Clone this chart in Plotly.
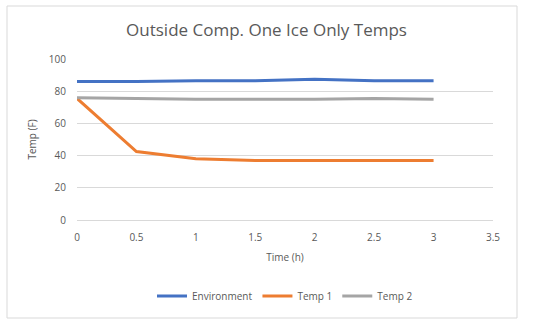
import plotly.graph_objects as go

time_h = [0, 0.5, 1, 1.5, 2, 2.5, 3]
environment = [86, 86, 86.5, 86.5, 87.5, 86.5, 86.5]
temp1 = [75.5, 42.5, 38, 37, 37, 37, 37]
temp2 = [76, 75.5, 75, 75, 75, 75.5, 75]

W, H = 533, 326
L, R, T, B = 77, 40, 59, 106
pw, ph = W - L - R, H - T - B

fig = go.Figure()
for name, ys, col in [("Environment", environment, "#4472C4"),
                      ("Temp 1", temp1, "#ED7D31"),
                      ("Temp 2", temp2, "#A5A5A5")]:
    fig.add_trace(go.Scatter(x=time_h, y=ys, mode="lines", name=name,
                             line=dict(color=col, width=3)))

def px_x(p):
    return (p - L) / pw
def px_y(p):
    return 1 - (p - T) / ph

fig.add_shape(type="rect", xref="paper", yref="paper",
              x0=px_x(7), x1=px_x(517), y0=px_y(318), y1=px_y(6),
              line=dict(color="#D9D9D9", width=1), fillcolor="rgba(0,0,0,0)", layer="below")

font_family = "Open Sans, Liberation Sans, sans-serif"
fig.update_layout(
    width=W, height=H,
    margin=dict(l=L, r=R, t=T, b=B),
    paper_bgcolor="white", plot_bgcolor="white",
    title=dict(text="Outside Comp. One Ice Only Temps", x=0.5, xanchor="center",
               y=1 - 30 / H, yanchor="middle",
               font=dict(family=font_family, size=17, color="#595959")),
    font=dict(family=font_family, color="#595959", size=10),
    xaxis=dict(range=[0, 3.5], tickvals=[0, 0.5, 1, 1.5, 2, 2.5, 3, 3.5],
               ticktext=["0", "0.5", "1", "1.5", "2", "2.5", "3", "3.5"],
               showgrid=False, zeroline=False, showline=True, linecolor="#D9D9D9",
               ticks="", ticklabelstandoff=8, tickfont=dict(size=10, color="#595959"),
               title=dict(text="Time (h)", font=dict(size=10, color="#595959"), standoff=10)),
    yaxis=dict(range=[0, 100], tickvals=[0, 20, 40, 60, 80, 100],
               showgrid=True, gridcolor="#D9D9D9", gridwidth=1, zeroline=False,
               ticks="", ticklabelstandoff=10, tickfont=dict(size=10, color="#595959"),
               title=dict(text="Temp (F)", font=dict(size=10, color="#595959"), standoff=10)),
    legend=dict(orientation="h", x=0.5, xanchor="center", y=px_y(296), yanchor="middle",
                font=dict(size=10, color="#595959"), itemwidth=30,
                bgcolor="rgba(0,0,0,0)"),
    showlegend=True,
)

fig.write_html("out.html")
